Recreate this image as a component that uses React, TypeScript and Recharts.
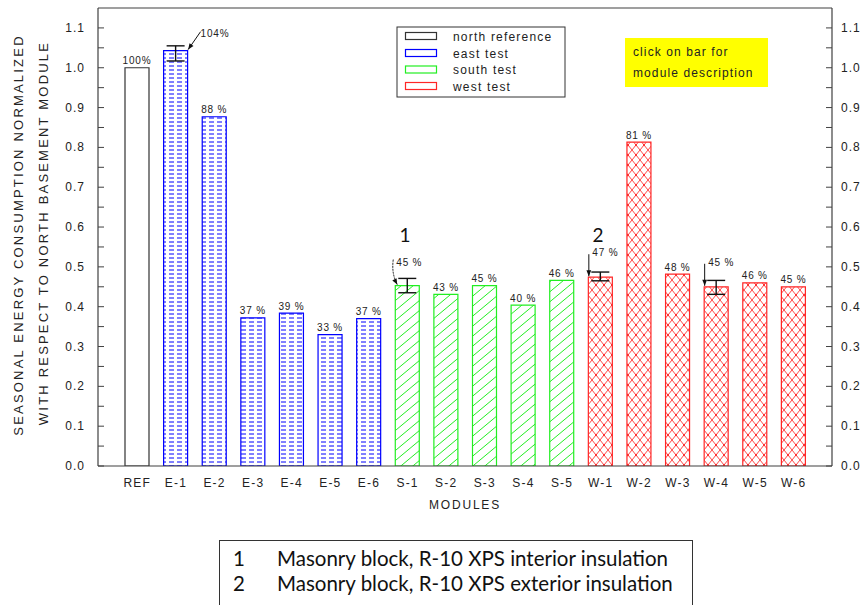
import React from 'react';
import { BarChart, Bar, XAxis, YAxis, Cell, LabelList, ErrorBar, ReferenceLine } from 'recharts';

const categories = ['REF', 'E-1', 'E-2', 'E-3', 'E-4', 'E-5', 'E-6', 'S-1', 'S-2', 'S-3', 'S-4', 'S-5', 'W-1', 'W-2', 'W-3', 'W-4', 'W-5', 'W-6'];
const values = [1.0, 1.043, 0.877, 0.372, 0.384, 0.33, 0.37, 0.453, 0.431, 0.453, 0.404, 0.466, 0.474, 0.813, 0.482, 0.45, 0.46, 0.45];
const percentLabels = ['100%', '104%', '88 %', '37 %', '39 %', '33 %', '37 %', '45 %', '43 %', '45 %', '40 %', '46 %', '47 %', '81 %', '48 %', '45 %', '46 %', '45 %'];
const groups = ['ref', 'east', 'east', 'east', 'east', 'east', 'east', 'south', 'south', 'south', 'south', 'south', 'west', 'west', 'west', 'west', 'west', 'west'];
const errorRanges: (number[] | null)[] = [null, [0.026, 0.012], null, null, null, null, null, [0.018, 0.018], null, null, null, null, [0.009, 0.013], null, null, [0.019, 0.016], null, null];
const yTicks = [0, 0.05, 0.1, 0.15, 0.2, 0.25, 0.3, 0.35, 0.4, 0.45, 0.5, 0.55, 0.6, 0.65, 0.7, 0.75, 0.8, 0.85, 0.9, 0.95, 1.0, 1.05, 1.1];
const legendGroups = ['ref', 'east', 'south', 'west'];
const legendLabels = ['north reference', 'east test', 'south test', 'west test'];
const noteNumbers = ['1', '2'];
const noteTexts = ['Masonry block, R-10 XPS interior insulation', 'Masonry block, R-10 XPS exterior insulation'];
const infoLines = ['click on bar for', 'module description'];
const yTitleLines = ['SEASONAL ENERGY CONSUMPTION NORMALIZED', 'WITH RESPECT TO NORTH BASEMENT MODULE'];
const xTitle = 'MODULES';

const data = categories.map((name, i) => ({
  name,
  value: values[i],
  label: percentLabels[i],
  group: groups[i],
  err: errorRanges[i] ?? undefined,
}));

const groupStyle: Record<string, { stroke: string; fill: string }> = {
  ref: { stroke: '#333333', fill: '#ffffff' },
  east: { stroke: '#0000ff', fill: 'url(#eastPat)' },
  south: { stroke: '#22ee22', fill: 'url(#southPat)' },
  west: { stroke: '#ff2626', fill: 'url(#westPat)' },
};

const FONT = '"Liberation Sans", Arial, sans-serif';
const TEXT = '#222222';
const AXIS = '#404040';

const arrowStyle: Record<string, string> = { 'E-1': 'diag', 'S-1': 'curve', 'W-1': 'down', 'W-4': 'down' };

function ArrowHead({ x, y, angle }: { x: number; y: number; angle: number }) {
  const len = 6, hw = 2.4;
  const bx = x - Math.cos(angle) * len, by = y - Math.sin(angle) * len;
  const px = -Math.sin(angle) * hw, py = Math.cos(angle) * hw;
  return <polygon points={`${x},${y} ${bx + px},${by + py} ${bx - px},${by - py}`} fill="#111" />;
}

const renderLabel = (props: any) => {
  const vb = props.viewBox ?? {};
  const x = Number(vb.x ?? props.x);
  const y = Number(vb.y ?? props.y);
  const w = Number(vb.width ?? props.width);
  const idx = Number(props.index);
  const name = categories[idx];
  const text = percentLabels[idx];
  const style = arrowStyle[name];
  const common = { fontSize: 10, fontFamily: FONT, fill: TEXT, letterSpacing: 0.8 } as any;
  if (style === 'diag') {
    const x1 = x + w + 13, y1 = y - 19, x2 = x + w + 0.5, y2 = y - 1;
    const a = Math.atan2(y2 - y1, x2 - x1);
    return (
      <g>
        <text x={x + w + 13} y={y - 14} {...common}>{text}</text>
        <line x1={x1} y1={y1} x2={x2} y2={y2} stroke="#111" strokeWidth={1} />
        <ArrowHead x={x2} y={y2} angle={a} />
      </g>
    );
  }
  if (style === 'curve') {
    const x1 = x - 2, y1 = y - 26, x2 = x + 2, y2 = y - 1;
    const cx = x - 4, cy = y - 12;
    const a = Math.atan2(y2 - cy, x2 - cx);
    return (
      <g>
        <text x={x + 1} y={y - 20} {...common}>{text}</text>
        <path d={`M${x1},${y1} Q${cx},${cy} ${x2},${y2}`} stroke="#111" strokeWidth={1} fill="none" strokeDasharray="2 1" />
        <ArrowHead x={x2} y={y2} angle={a} />
      </g>
    );
  }
  if (style === 'down') {
    const x1 = x + 0.5, y1 = y - 23, y2 = y - 1;
    return (
      <g>
        <text x={x + 4} y={y - 21} {...common}>{text}</text>
        <line x1={x1} y1={y1} x2={x1} y2={y2} stroke="#111" strokeWidth={1} />
        <ArrowHead x={x1} y={y2} angle={Math.PI / 2} />
      </g>
    );
  }
  return <text x={x + w / 2} y={y - 3.5} textAnchor="middle" {...common}>{text}</text>;
};

const LeftTick = (props: any) => {
  const { x, y, payload } = props;
  const axisX = x + 13;
  const v = Number(payload.value);
  const major = Math.round(v * 100) % 10 === 0;
  return (
    <g>
      <line x1={axisX} x2={axisX + 6} y1={y} y2={y} stroke={AXIS} strokeWidth={1} />
      {major && (
        <text x={x} y={y + 4} textAnchor="end" fontSize={12} fontFamily={FONT} fill={TEXT} letterSpacing={1}>{v.toFixed(1)}</text>
      )}
    </g>
  );
};

const RightTick = (props: any) => {
  const { x, y, payload } = props;
  const axisX = x - 9;
  const v = Number(payload.value);
  const major = Math.round(v * 100) % 10 === 0;
  return (
    <g>
      <line x1={axisX} x2={axisX - 6} y1={y} y2={y} stroke={AXIS} strokeWidth={1} />
      {major && (
        <text x={x} y={y + 4} textAnchor="start" fontSize={12} fontFamily={FONT} fill={TEXT} letterSpacing={1}>{v.toFixed(1)}</text>
      )}
    </g>
  );
};

const XTick = (props: any) => {
  const { x, y, payload } = props;
  return (
    <text x={x} y={y + 21} textAnchor="middle" fontSize={12} fontFamily={FONT} fill={TEXT} letterSpacing={1.2}>{payload.value}</text>
  );
};

const YTitle = () => (
  <g>
    <text transform="translate(23,235) rotate(-90)" textAnchor="middle" fontSize={13} fontFamily={FONT} fill={TEXT} letterSpacing={2.2}>{yTitleLines[0]}</text>
    <text transform="translate(48,233) rotate(-90)" textAnchor="middle" fontSize={13} fontFamily={FONT} fill={TEXT} letterSpacing={2.2}>{yTitleLines[1]}</text>
  </g>
);

const XTitle = (props: any) => {
  const vb = props.viewBox ?? { x: 98, y: 466, width: 734 };
  return (
    <text x={vb.x + vb.width / 2} y={vb.y + 43} textAnchor="middle" fontSize={12} fontFamily={FONT} fill={TEXT} letterSpacing={1.8}>{xTitle}</text>
  );
};

export default function App() {
  const legendRowY = [36, 53, 69.5, 86];
  return (
    <div style={{ position: 'absolute', left: 0, top: 0, width: 863, height: 605, background: '#ffffff', overflow: 'hidden' }}>
      <div style={{ position: 'absolute', left: 0, top: 0 }}>
        <BarChart width={863} height={605} data={data} margin={{ top: 8, right: 0, bottom: 99, left: 0 }}>
          <XAxis
            dataKey="name"
            interval={0}
            tickLine={false}
            tickSize={0}
            tickMargin={0}
            axisLine={{ stroke: AXIS, strokeWidth: 1.2 }}
            tick={XTick}
            padding={{ left: 20, right: 19 }}
            height={40}
            label={XTitle}
          />
          <YAxis
            yAxisId="left"
            orientation="left"
            width={98}
            domain={[0, 1.15]}
            allowDataOverflow
            type="number"
            ticks={yTicks}
            interval={0}
            tickSize={0}
            tickMargin={13}
            tickLine={false}
            axisLine={{ stroke: AXIS, strokeWidth: 1.2 }}
            tick={LeftTick}
            label={YTitle}
          />
          <YAxis
            yAxisId="right"
            orientation="right"
            width={31}
            domain={[0, 1.15]}
            allowDataOverflow
            type="number"
            ticks={yTicks}
            interval={0}
            tickSize={0}
            tickMargin={9}
            tickLine={false}
            axisLine={{ stroke: AXIS, strokeWidth: 1.2 }}
            tick={RightTick}
          />
          <ReferenceLine yAxisId="left" y={1.15} stroke={AXIS} strokeWidth={1.2} ifOverflow="extendDomain" />
          <Bar yAxisId="left" dataKey="value" barSize={24} isAnimationActive={false}>
            {data.map((d, i) => (
              <Cell key={i} fill={groupStyle[d.group].fill} stroke={groupStyle[d.group].stroke} strokeWidth={1.2} />
            ))}
            <ErrorBar dataKey="err" width={9} stroke="#111" strokeWidth={1.4} direction="y" />
            <LabelList dataKey="label" content={renderLabel} />
          </Bar>
        </BarChart>
      </div>
      <svg width={863} height={605} style={{ position: 'absolute', left: 0, top: 0, pointerEvents: 'none' }}>
        <defs>
          <pattern id="eastPat" patternUnits="userSpaceOnUse" width={8} height={4}>
            <rect width={8} height={4} fill="#ffffff" />
            <line x1={1} x2={6} y1={2} y2={2} stroke="#0000ff" strokeWidth={1} />
          </pattern>
          <pattern id="southPat" patternUnits="userSpaceOnUse" width={12} height={10}>
            <rect width={12} height={10} fill="#ffffff" />
            <path d="M0,10 L12,0 M-3,2.5 L3,-2.5 M9,12.5 L15,7.5" stroke="#22ee22" strokeWidth={1} />
          </pattern>
          <pattern id="westPat" patternUnits="userSpaceOnUse" width={8} height={10}>
            <rect width={8} height={10} fill="#ffffff" />
            <path d="M0,0 L8,10 M8,0 L0,10" stroke="#ff3030" strokeWidth={0.9} />
            <circle cx={4} cy={5} r={0.9} fill="#ff2020" />
          </pattern>
        </defs>
        <rect x={397} y={27} width={168} height={70} fill="#ffffff" stroke="#333" strokeWidth={1} />
        {legendGroups.map((g, i) => (
          <g key={g}>
            <rect x={405.5} y={legendRowY[i] - 3.5} width={31} height={7} fill="#ffffff" stroke={groupStyle[g].stroke} strokeWidth={1.2} />
            <text x={453} y={legendRowY[i] + 4.5} fontSize={12} fontFamily={FONT} fill={TEXT} letterSpacing={1.2}>{legendLabels[i]}</text>
          </g>
        ))}
        <rect x={625} y={38} width={143} height={49} fill="#ffff00" />
        <text x={633} y={56} fontSize={12} fontFamily={FONT} fill={TEXT} letterSpacing={1.1}>{infoLines[0]}</text>
        <text x={633} y={77} fontSize={12} fontFamily={FONT} fill={TEXT} letterSpacing={1.1}>{infoLines[1]}</text>
        <text x={405} y={242} textAnchor="middle" fontSize={19} fontFamily="Lato, sans-serif" fill="#111">{noteNumbers[0]}</text>
        <text x={598} y={242} textAnchor="middle" fontSize={19} fontFamily="Lato, sans-serif" fill="#111">{noteNumbers[1]}</text>
        <rect x={219.5} y={540.5} width={473} height={80} fill="#ffffff" stroke="#333" strokeWidth={1} />
        {noteTexts.map((t, i) => (
          <g key={i}>
            <text x={233} y={566 + i * 25} fontSize={20.5} fontFamily="Lato, sans-serif" fill="#111">{noteNumbers[i]}</text>
            <text x={277} y={566 + i * 25} fontSize={20.5} fontFamily="Lato, sans-serif" fill="#111">{t}</text>
          </g>
        ))}
      </svg>
    </div>
  );
}
